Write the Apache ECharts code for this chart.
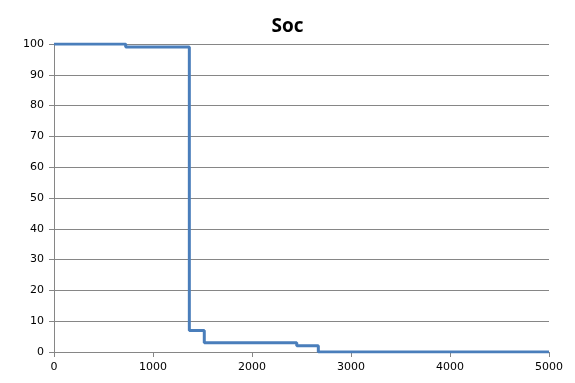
<!DOCTYPE html>
<html><head><meta charset="utf-8">
<script src="https://cdn.jsdelivr.net/npm/echarts@6/dist/echarts.min.js"></script>
<style>html,body{margin:0;padding:0;background:#fff}#c{width:575px;height:383px}</style>
</head><body><div id="c"></div>
<script>
const title = 'Soc';
const times = [0, 724, 1367, 1518, 2452, 2670, 5000];
const soc = [100, 99, 7, 3, 2, 0, 0];
const xTicks = [0, 1000, 2000, 3000, 4000, 5000];
const yTicks = [0, 10, 20, 30, 40, 50, 60, 70, 80, 90, 100];

const chart = echarts.init(document.getElementById('c'), null, {renderer: 'canvas'});
chart.setOption({
  animation: false,
  title: {text: title, left: 'center', top: 12, textStyle: {fontFamily: 'Open Sans', fontWeight: 'bold', fontSize: 19, color: '#000'}},
  grid: {left: 54, right: 26, top: 44, bottom: 31},
  xAxis: {type: 'value', min: xTicks[0], max: xTicks[xTicks.length-1], interval: 1000,
    axisLine: {lineStyle: {color: '#868686'}},
    axisTick: {show: true, length: 5, lineStyle: {color: '#868686'}},
    splitLine: {show: false},
    axisLabel: {color: '#000', fontFamily: 'DejaVu Sans', fontSize: 11, margin: 10, formatter: v => String(v)}},
  yAxis: {type: 'value', min: yTicks[0], max: yTicks[yTicks.length-1], interval: 10,
    axisLine: {show: true, lineStyle: {color: '#868686'}},
    axisTick: {show: true, length: 5, lineStyle: {color: '#868686'}},
    splitLine: {lineStyle: {color: '#868686'}},
    axisLabel: {color: '#000', fontFamily: 'DejaVu Sans', fontSize: 11, margin: 10, formatter: v => String(v)}},
  series: [{type: 'line', step: 'end', symbol: 'none',
    data: times.map((t, i) => [t, soc[i]]),
    lineStyle: {color: '#4a7ebb', width: 3}}]
});
</script></body></html>
